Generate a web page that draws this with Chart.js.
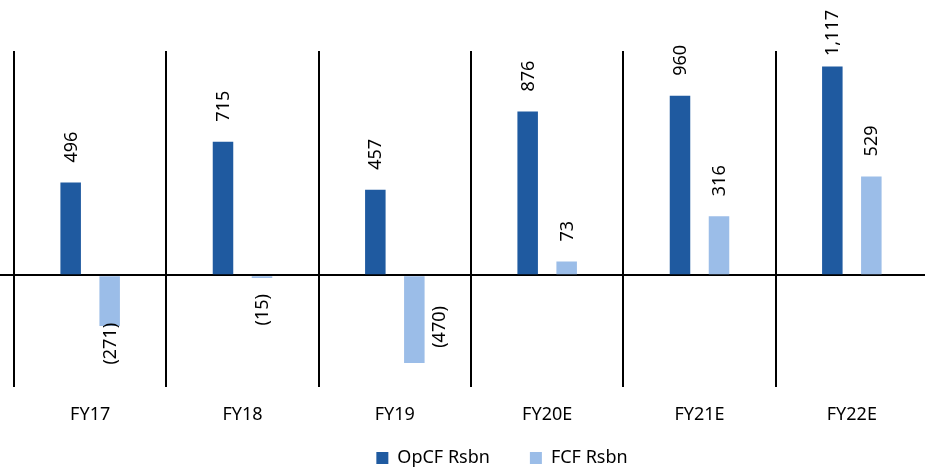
<!DOCTYPE html>
<html lang="en">
<head>
    <meta charset="UTF-8">
    <title>OpCF / FCF Rsbn</title>
    <script src="https://cdn.jsdelivr.net/npm/chart.js"></script>
    <style>
        body { margin: 0; overflow: hidden; background: #fff; }
    </style>
</head>
<body>
    <canvas id="cfChart" width="930" height="511"></canvas>

    <script>
        // years and values, Rsbn
        const years = ['FY17', 'FY18', 'FY19', 'FY20E', 'FY21E', 'FY22E'];
        const opcf = [496, 715, 457, 876, 960, 1117];
        const fcf = [-271, -15, -470, 73, 316, 529];

        const font = { family: '"Noto Sans", sans-serif', size: 18 };
        Chart.defaults.font.family = font.family;

        // negatives shown in brackets, thousands with a comma
        const fmt = v => v < 0
            ? '(' + Math.abs(v).toLocaleString('en-US') + ')'
            : v.toLocaleString('en-US');

        // a couple of labels were moved by hand: [dx, dy] in px, key = dataset-index
        const labelNudge = { '1-0': [0, -19], '1-2': [25, -73] };

        // vertical value labels at the end of each bar
        const barLabels = {
            id: 'barLabels',
            afterDatasetsDraw(chart) {
                const ctx = chart.ctx;
                ctx.save();
                ctx.font = font.size + 'px ' + font.family;
                ctx.fillStyle = '#000';
                ctx.textBaseline = 'middle';
                ctx.textAlign = 'left';
                chart.data.datasets.forEach((ds, di) => {
                    chart.getDatasetMeta(di).data.forEach((bar, i) => {
                        const v = ds.data[i];
                        const text = fmt(v);
                        const w = ctx.measureText(text).width;
                        const [dx, dy] = labelNudge[di + '-' + i] || [0, 0];
                        let y; // where the text starts (its lower end)
                        if (v >= 0) {
                            y = bar.y - 20;
                            if (y - w < 10) y = 10 + w;
                        } else {
                            y = bar.y + 16 + w;
                        }
                        ctx.save();
                        ctx.translate(bar.x + 1 + dx, y + dy);
                        ctx.rotate(-Math.PI / 2);
                        ctx.fillText(text, 0, 0);
                        ctx.restore();
                    });
                });
                ctx.restore();
            }
        };

        // legend sits a bit right of centre and close under the axis labels
        const legendShift = {
            id: 'legendShift',
            afterLayout(chart) {
                const lg = chart.legend;
                const dx = 502 - (lg.left + lg.right) / 2;
                const dy = 409 - lg.top;
                lg.left += dx; lg.right += dx;
                lg.top += dy; lg.bottom += dy;
            }
        };

        new Chart(document.getElementById('cfChart'), {
            type: 'bar',
            data: {
                labels: years,
                datasets: [
                    {
                        label: 'OpCF Rsbn',
                        data: opcf,
                        backgroundColor: '#1F5AA0',
                        barPercentage: 0.526,
                        categoryPercentage: 0.512
                    },
                    {
                        label: 'FCF Rsbn',
                        data: fcf,
                        backgroundColor: '#9BBDE8',
                        barPercentage: 0.526,
                        categoryPercentage: 0.512
                    }
                ]
            },
            options: {
                responsive: false,
                animation: false,
                layout: { padding: { top: 51, right: 2, left: 0, bottom: 0 } },
                plugins: {
                    legend: {
                        position: 'bottom',
                        labels: { boxWidth: 12, boxHeight: 12, padding: 40, color: '#000', font: font }
                    },
                    tooltip: { enabled: false }
                },
                scales: {
                    x: {
                        grid: { color: '#000', lineWidth: 2, drawTicks: false, offset: true },
                        border: { display: false },
                        ticks: { color: '#000', padding: 17, font: font }
                    },
                    y: {
                        min: -600,
                        max: 1200,
                        z: 1,
                        border: { display: false },
                        ticks: { display: false, stepSize: 600 },
                        grid: {
                            color: c => (c.tick && c.tick.value === 0) ? '#000' : 'rgba(0,0,0,0)',
                            lineWidth: 2,
                            tickLength: 14
                        }
                    }
                }
            },
            plugins: [barLabels, legendShift]
        });
    </script>
</body>
</html>
